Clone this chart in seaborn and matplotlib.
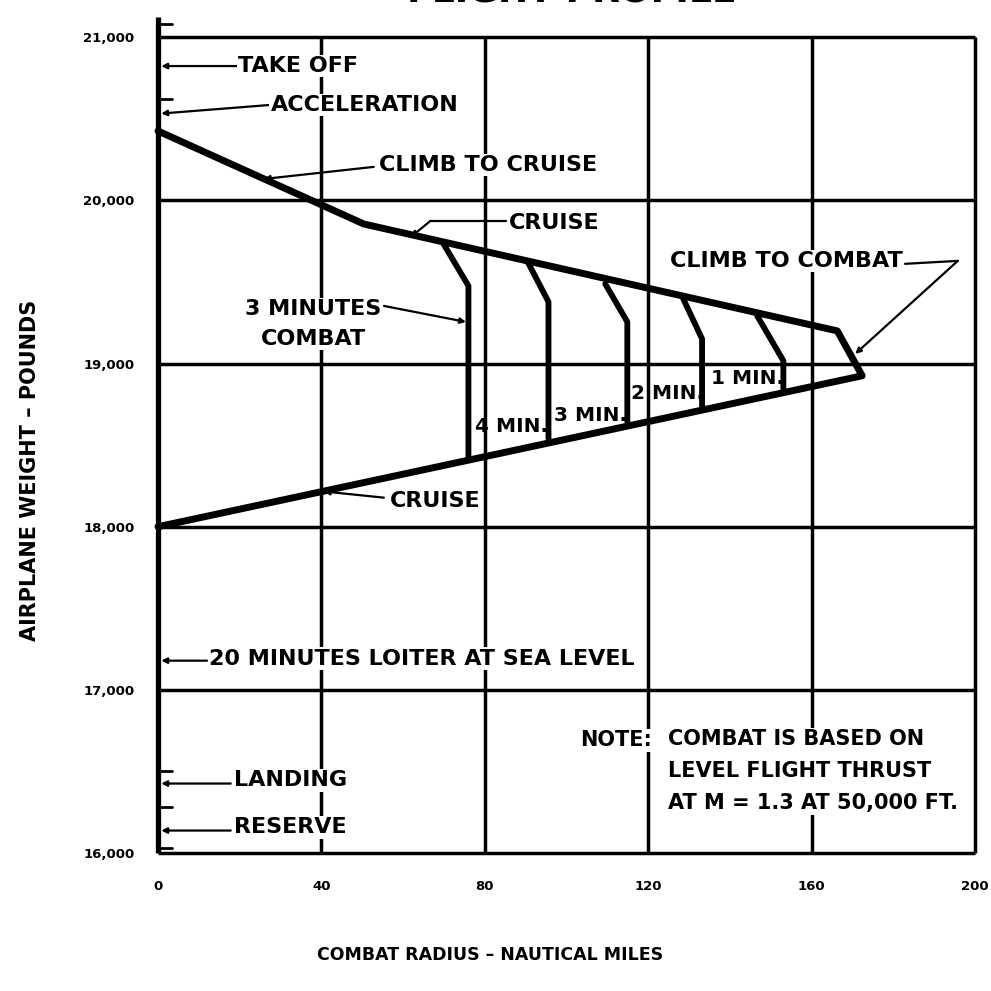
import matplotlib
matplotlib.use("Agg")
import matplotlib.pyplot as plt
import seaborn as sns
import pandas as pd

# ---- data -------------------------------------------------------------
x_ticks = [0, 40, 80, 120, 160, 200]
x_tick_labels = ["0", "40", "80", "120", "160", "200"]
y_ticks = [16000, 17000, 18000, 19000, 20000, 21000]
y_tick_labels = ["16,000", "17,000", "18,000", "19,000", "20,000", "21,000"]

# mission path: climb to cruise, cruise out, climb to combat, cruise back
path_radius = [0, 50.4, 166.3, 172.4, 0]
path_weight = [20425, 19855, 19200, 18925, 18000]

# combat segments (start on outbound cruise, end on return cruise)
combat_names = ["4 MIN.", "3 MIN.", "2 MIN.", "1 MIN.", "5 MIN."]
combat_radius = [[69.9, 76.0, 76.0], [90.5, 95.6, 95.6], [109.5, 114.9, 114.9],
                 [128.6, 133.2, 133.2], [146.7, 153.1, 153.1]]
combat_weight = [[19733, 19476, 18416], [19623, 19378, 18539], [19488, 19255, 18643],
                 [19396, 19151, 18735], [19292, 19017, 18845]]

# phase markers along the weight axis
phase_marks = [21080, 20621, 16500, 16285, 16028]

# ---- style ------------------------------------------------------------
sns.set_theme(style="white")
plt.rcParams["font.family"] = ["DejaVu Sans"]
plt.rcParams["font.weight"] = "bold"
INK = "black"

fig = plt.figure(figsize=(9.91, 9.91), dpi=100)
ax = fig.add_axes([0.1553, 0.1359, 0.8326, 0.848])
ax.set_xlim(-1, 201)
ax.set_ylim(15980, 21130)
for s in ax.spines.values():
    s.set_visible(False)

# grid box
for xv in x_ticks[1:]:
    ax.plot([xv, xv], [16000, 21000], color=INK, lw=2.5, zorder=1, solid_capstyle="butt")
for yv in y_ticks:
    ax.plot([0, 200], [yv, yv], color=INK, lw=2.5, zorder=1, solid_capstyle="butt")
ax.plot([0, 0], [16000, 21125], color=INK, lw=3.8, zorder=3, solid_capstyle="butt")
for ym in phase_marks:
    ax.plot([0, 3.5], [ym, ym], color=INK, lw=2.0, zorder=3)

ax.set_xticks(x_ticks)
ax.set_xticklabels(x_tick_labels)
ax.set_yticks(y_ticks)
ax.set_yticklabels(y_tick_labels)
ax.tick_params(axis="both", length=0, labelsize=9.5, colors=INK)
ax.tick_params(axis="x", pad=17)
ax.tick_params(axis="y", pad=14)
for lab in ax.get_xticklabels() + ax.get_yticklabels():
    lab.set_fontweight("heavy")

# ---- mission lines ----------------------------------------------------
path_df = pd.DataFrame({"radius": path_radius, "weight": path_weight})
sns.lineplot(data=path_df, x="radius", y="weight", sort=False, estimator=None,
             color=INK, lw=5, ax=ax, zorder=4)

rows = []
for name, xs, ys in zip(combat_names, combat_radius, combat_weight):
    for xv, yv in zip(xs, ys):
        rows.append({"segment": name, "radius": xv, "weight": yv})
combat_df = pd.DataFrame(rows)
sns.lineplot(data=combat_df, x="radius", y="weight", units="segment", sort=False,
             estimator=None, color=INK, lw=4.2, ax=ax, zorder=4)
ax.set_xlabel("")
ax.set_ylabel("")

# ---- annotations ------------------------------------------------------
BOX = dict(facecolor="white", edgecolor="none", pad=1.0)
FS = 16


def label(x, y, s, ha="left", va="center", fs=FS, box=True, **kw):
    ax.text(x, y, s, ha=ha, va=va, fontsize=fs, fontweight="bold", color=INK,
            bbox=BOX if box else None, zorder=6, **kw)


def leader(x0, y0, x1, y1, arrow=True):
    ax.annotate("", xy=(x0, y0), xytext=(x1, y1),
                arrowprops=dict(arrowstyle="-|>" if arrow else "-", color=INK, lw=1.6,
                                mutation_scale=8, shrinkA=0, shrinkB=0), zorder=5)


label(19.6, 20823, "TAKE OFF")
leader(0.8, 20823, 19.3, 20823)

label(27.6, 20584, "ACCELERATION")
leader(0.8, 20532, 27.1, 20584)

label(54.2, 20217, "CLIMB TO CRUISE")
leader(25.9, 20131, 52.8, 20205)

label(86.0, 19860, "CRUISE")
ax.plot([66.7, 85.1], [19874, 19874], color=INK, lw=1.6, zorder=5)
leader(61.9, 19776, 66.7, 19874)

label(38.1, 19243, "3 MINUTES\nCOMBAT", ha="center", linespacing=1.6)
leader(75.4, 19255, 55.3, 19353)

label(56.8, 18159, "CRUISE")
leader(40.6, 18216, 55.3, 18178)

label(125.4, 19629, "CLIMB TO COMBAT")
ax.plot([182.9, 195.8], [19611, 19629], color=INK, lw=1.6, zorder=5)
leader(170.7, 19059, 195.8, 19629)

label(77.5, 18612, "4 MIN.", fs=14.5, box=False)
label(96.9, 18680, "3 MIN.", fs=14.5, box=False)
label(115.7, 18814, "2 MIN.", fs=14.5, box=False)
label(135.3, 18906, "1 MIN.", fs=14.5, box=False)

label(12.6, 17192, "20 MINUTES LOITER AT SEA LEVEL")
leader(0.8, 17179, 12.0, 17179)

label(103.4, 16690, "NOTE:", fs=15)
label(124.9, 16500, "COMBAT IS BASED ON\nLEVEL FLIGHT THRUST\nAT M = 1.3 AT 50,000 FT.",
      fs=15, linespacing=1.75)

label(18.6, 16445, "LANDING")
leader(0.8, 16426, 17.8, 16426)

label(18.6, 16157, "RESERVE")
leader(0.8, 16138, 17.8, 16138)

# axis titles and the heading at the top edge
fig.text(30 / 991, 1 - 470 / 991, "AIRPLANE WEIGHT \u2013 POUNDS", rotation=90,
         ha="center", va="center", fontsize=15, fontweight="bold", color=INK)
fig.text(490 / 991, 1 - 955 / 991, "COMBAT RADIUS \u2013 NAUTICAL MILES",
         ha="center", va="center", fontsize=12.5, fontweight="bold", color=INK)
fig.text(572 / 991, 1 - 8 / 991, "FLIGHT PROFILE", ha="center", va="bottom",
         fontsize=26, fontweight="bold", color=INK)

fig.savefig("out.png", dpi=100, facecolor="white")
